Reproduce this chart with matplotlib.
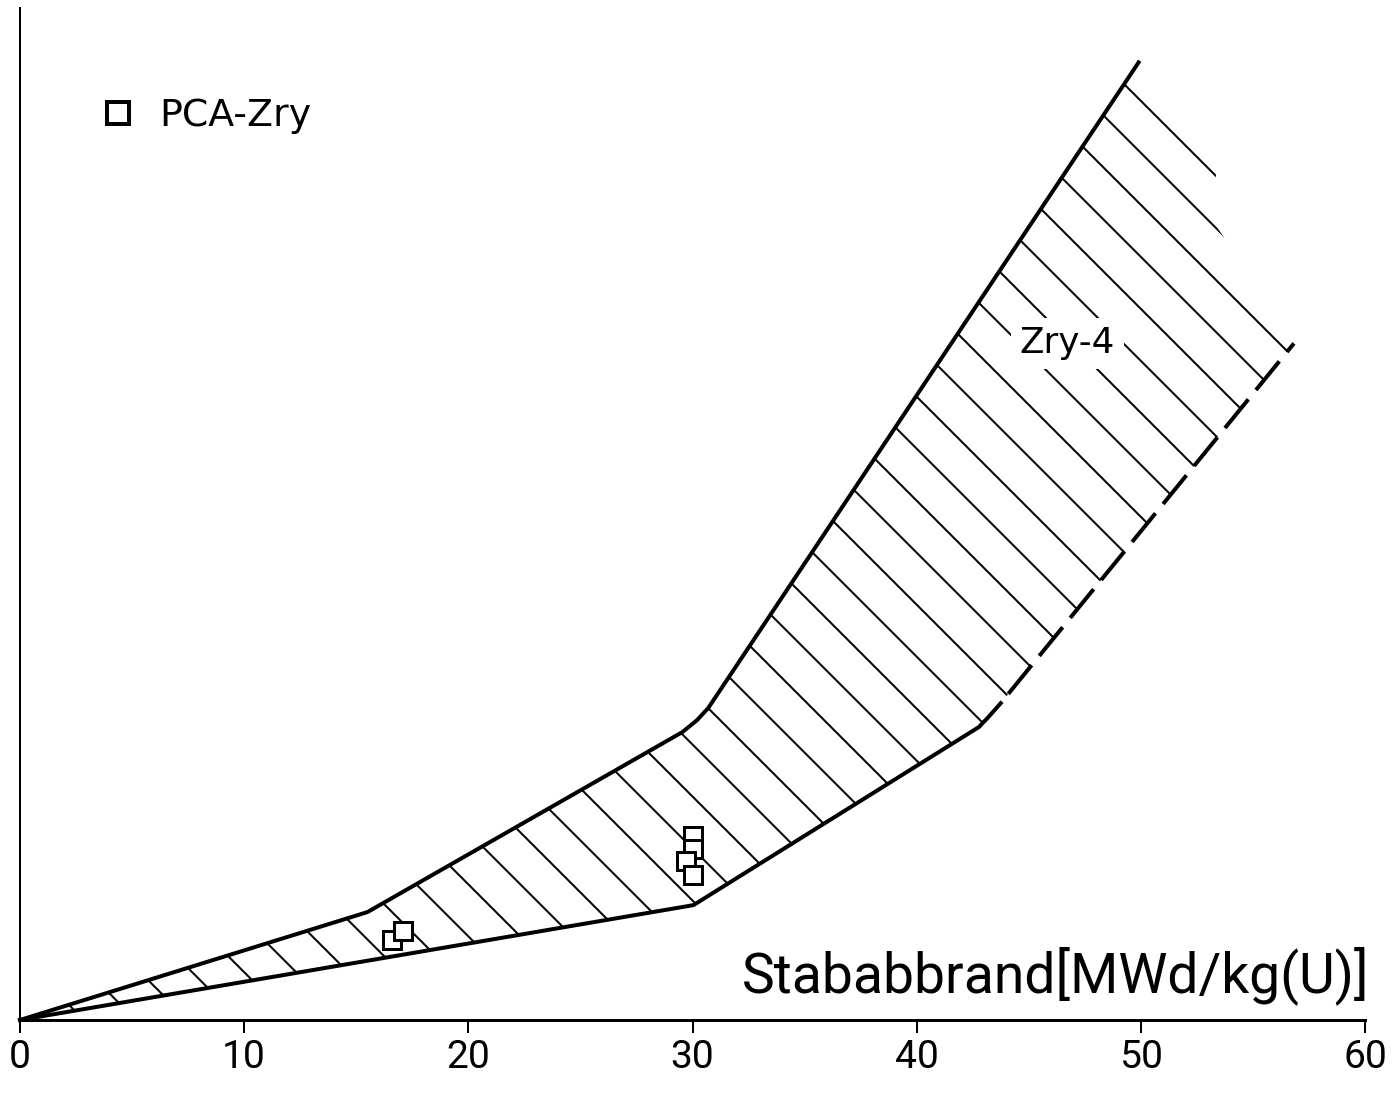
import matplotlib
matplotlib.use("Agg")
import matplotlib.pyplot as plt
from matplotlib.lines import Line2D
import numpy as np

# x: Stababbrand [MWd/kg(U)], y: arbitrary units (the original has no y scale)
x_ticks = [0, 10, 20, 30, 40, 50, 60]

# Zry-4 scatter band: upper edge, solid lower edge, dashed (extrapolated) lower edge
upper_x = [0.0, 15.5, 29.55, 30.2, 30.7, 49.9]
upper_y = [0.0, 4.82, 12.86, 13.39, 13.93, 42.77]
lower_x = [0.0, 30.04, 42.77, 43.2, 43.75]
lower_y = [0.0, 5.13, 13.08, 13.53, 14.15]
dashed_x = [43.75, 56.83]
dashed_y = [14.15, 30.22]
# open right side of the hatched area (hatch lines just stop there)
edge_x = [53.35, 53.35]
edge_y = [39.73, 35.49]

# PCA-Zry measurements
pca_x = [16.6, 17.1, 30.0, 30.0, 29.7, 30.0]
pca_y = [3.57, 3.97, 8.21, 7.63, 7.10, 6.47]

DPI = 156   # hatch spacing in agg scales with dpi -> ~52 px between lines
PT = DPI / 72.0

plt.rcParams["font.family"] = ["Roboto", "DejaVu Sans"]
plt.rcParams["hatch.linewidth"] = 2.0 / PT
plt.rcParams["lines.scale_dashes"] = False

fig = plt.figure(figsize=(1393 / DPI, 1096 / DPI), dpi=DPI)
ax = fig.add_axes([20 / 1393, 76 / 1096, 1345 / 1393, 1012 / 1096])

# hatched band
poly_x = np.concatenate([upper_x, edge_x, dashed_x[::-1], lower_x[::-1]])
poly_y = np.concatenate([upper_y, edge_y, dashed_y[::-1], lower_y[::-1]])
ax.fill(poly_x, poly_y, facecolor="none", edgecolor="black",
        hatch="\\", linewidth=0, zorder=1)

lw = 4.0 / PT
ax.plot(upper_x, upper_y, color="black", lw=lw, clip_on=False, zorder=2,
        solid_joinstyle="round")
ax.plot(lower_x, lower_y, color="black", lw=lw, clip_on=False, zorder=2,
        solid_joinstyle="round")
ax.plot(dashed_x, dashed_y, color="black", lw=lw, zorder=2,
        linestyle=(37 / PT, (37 / PT, 12 / PT)))

ax.plot(pca_x, pca_y, linestyle="none", marker="s", markersize=18 / PT,
        markerfacecolor="white", markeredgecolor="black",
        markeredgewidth=3.0 / PT, zorder=3)

handle = Line2D([], [], linestyle="none", marker="s", markersize=22 / PT,
                markerfacecolor="white", markeredgecolor="black",
                markeredgewidth=4.0 / PT)
ax.legend([handle], ["PCA-Zry"], loc="center left",
          bbox_to_anchor=(0.0587, 0.893), frameon=False, borderpad=0,
          borderaxespad=0, handlelength=1.0, handletextpad=0.6,
          prop={"family": "DejaVu Sans", "size": 17.5})

ax.text(44.6, 29.78, "Zry-4", family="DejaVu Sans", fontsize=16.5,
        ha="left", va="baseline", zorder=4,
        bbox=dict(facecolor="white", edgecolor="none", pad=4))

ax.text(60.2, 1.25, "Stababbrand[MWd/kg(U)]", fontsize=25.5,
        ha="right", va="baseline")

ax.set_xlim(0, 60)
ax.set_ylim(0, 45.2)
ax.set_xticks(x_ticks)
ax.set_xticklabels([str(t) for t in x_ticks])
ax.set_yticks([])
ax.tick_params(axis="x", direction="out", length=13 / PT, width=2.0 / PT,
               pad=3.0, labelsize=18)
for side in ("top", "right"):
    ax.spines[side].set_visible(False)
ax.spines["left"].set_linewidth(2.0 / PT)
ax.spines["bottom"].set_linewidth(3.0 / PT)

fig.savefig("out.png", dpi=DPI)
